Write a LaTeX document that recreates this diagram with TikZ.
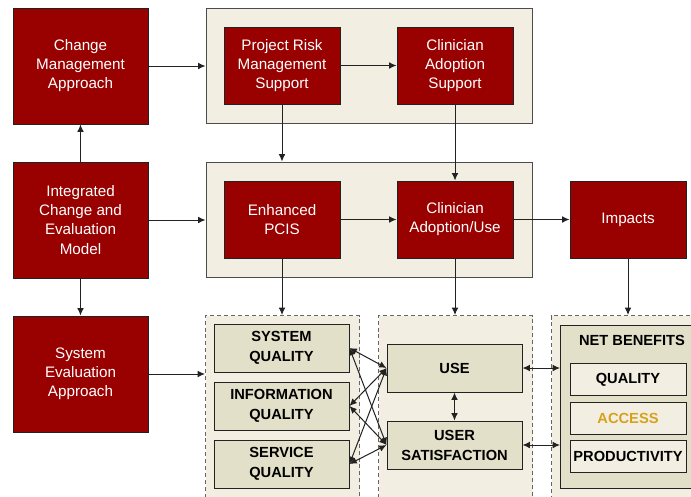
\documentclass[tikz,border=0pt]{standalone}
\usepackage{fontspec}
\setmainfont{Liberation Sans}
\usetikzlibrary{arrows.meta}
\definecolor{dred}{HTML}{990000}
\definecolor{beige}{HTML}{F2EEE1}
\definecolor{khaki}{HTML}{E3E0C9}
\definecolor{lbeige}{HTML}{F2EFE2}
\definecolor{gold}{HTML}{D6A11E}
\definecolor{edge}{HTML}{222222}
\begin{document}
\begin{tikzpicture}[x=0.75pt,y=-0.75pt,
  redbox/.style={draw=edge,line width=0.75pt,fill=dred,text=white,align=center,inner sep=0pt,
    font=\fontsize{11.4}{14.3}\selectfont},
  cont/.style={draw=black!70,line width=0.75pt,fill=beige,inner sep=0pt},
  dcont/.style={draw=black!60,line width=0.75pt,fill=beige,inner sep=0pt,dash pattern=on 3pt off 2.2pt},
  kbox/.style={draw=edge,line width=0.75pt,fill=khaki,align=center,inner sep=0pt,minimum width=101.25pt,minimum height=36pt,
    font=\fontsize{11}{15}\selectfont\bfseries},
  lbox/.style={draw=edge,line width=0.75pt,fill=lbeige,align=center,inner sep=0pt,minimum width=87pt,minimum height=24pt,
    font=\fontsize{11}{15}\selectfont\bfseries},
  arr/.style={line width=0.75pt,draw=edge,-{Latex[length=5.5pt,width=5pt]}},
  darr/.style={line width=0.75pt,draw=edge,{Latex[length=5.5pt,width=5pt]}-{Latex[length=5.5pt,width=5pt]}}]
\useasboundingbox[fill=white] (0,0) rectangle (691,496);
% containers
\node[cont,minimum width=244.5pt,minimum height=86.25pt] (tc) at (369,65.5) {};
\node[cont,minimum width=244.5pt,minimum height=86.25pt] (mc) at (369,219.5) {};
\node[dcont,minimum width=115.5pt,minimum height=150pt,anchor=north west] (dl) at (205,315) {};
\node[dcont,minimum width=115.5pt,minimum height=150pt,anchor=north west] (dm) at (378,315) {};
\node[dcont,minimum width=120pt,minimum height=150pt,anchor=north west] (dr) at (551,315) {};
% red boxes
\node[redbox,minimum width=101.25pt,minimum height=87pt] (cma) at (80.5,66) {Change\\Management\\Approach};
\node[redbox,minimum width=101.25pt,minimum height=87pt] (icem) at (80.5,220) {Integrated\\Change and\\Evaluation\\Model};
\node[redbox,minimum width=101.25pt,minimum height=87pt] (sea) at (80.5,374) {System\\Evaluation\\Approach};
\node[redbox,minimum width=87pt,minimum height=57.75pt] (prms) at (282,65.5) {Project Risk\\Management\\Support};
\node[redbox,minimum width=87pt,minimum height=57.75pt] (cas) at (455,65.5) {Clinician\\Adoption\\Support};
\node[redbox,minimum width=87pt,minimum height=57.75pt] (pcis) at (282,219.5) {Enhanced\\PCIS};
\node[redbox,minimum width=87pt,minimum height=57.75pt] (cau) at (455,219.5) {Clinician\\Adoption/Use};
\node[redbox,minimum width=87pt,minimum height=57.75pt] (imp) at (628,219.5) {Impacts};
% quality boxes
\node[kbox] (sq) at (281.5,348) {SYSTEM\\QUALITY};
\node[kbox] (iq) at (281.5,406) {INFORMATION\\QUALITY};
\node[kbox] (svq) at (281.5,464) {SERVICE\\QUALITY};
\node[kbox] (use) at (454.5,368) {USE};
\node[kbox] (us) at (454.5,445) {USER\\SATISFACTION};
% net benefits
\node[draw=edge,line width=0.75pt,fill=khaki,inner sep=0pt,minimum width=105pt,minimum height=122.25pt,anchor=north west] (nb) at (560,325) {};
\node[font=\fontsize{11}{15}\selectfont\bfseries,inner sep=0pt] (nbt) at (632,340) {NET BENEFITS};
\node[lbox] (q) at (628,379.5) {QUALITY};
\node[lbox,text=gold] (acc) at (628,418) {ACCESS};
\node[lbox] (prod) at (628,456) {PRODUCTIVITY};
% arrows
\draw[arr] (cma.east) -- (cma.east -| tc.west);
\draw[arr] (prms.east) -- (cas.west);
\draw[arr] (prms.south) -- (prms.south |- mc.north);
\draw[arr] (cas.south) -- (cau.north);
\draw[arr] (icem.north) -- (cma.south);
\draw[arr] (icem.east) -- (icem.east -| mc.west);
\draw[arr] (pcis.east) -- (cau.west);
\draw[arr] (cau.east) -- (imp.west);
\draw[arr] (icem.south) -- (sea.north);
\draw[arr] (sea.east) -- (sea.east -| dl.west);
\draw[arr] (pcis.south) -- (pcis.south |- dl.north);
\draw[arr] (cau.south) -- (cau.south |- dm.north);
\draw[arr] (imp.south) -- (imp.south |- dr.north);
\foreach \s in {sq,iq,svq}{
  \draw[darr] (\s.east) -- (use.west);
  \draw[darr] (\s.east) -- (us.west);
}
\draw[darr] (use.south) -- (us.north);
\draw[darr] (use.east) -- (use.east -| nb.west);
\draw[darr] (us.east) -- (us.east -| nb.west);
\end{tikzpicture}
\end{document}
